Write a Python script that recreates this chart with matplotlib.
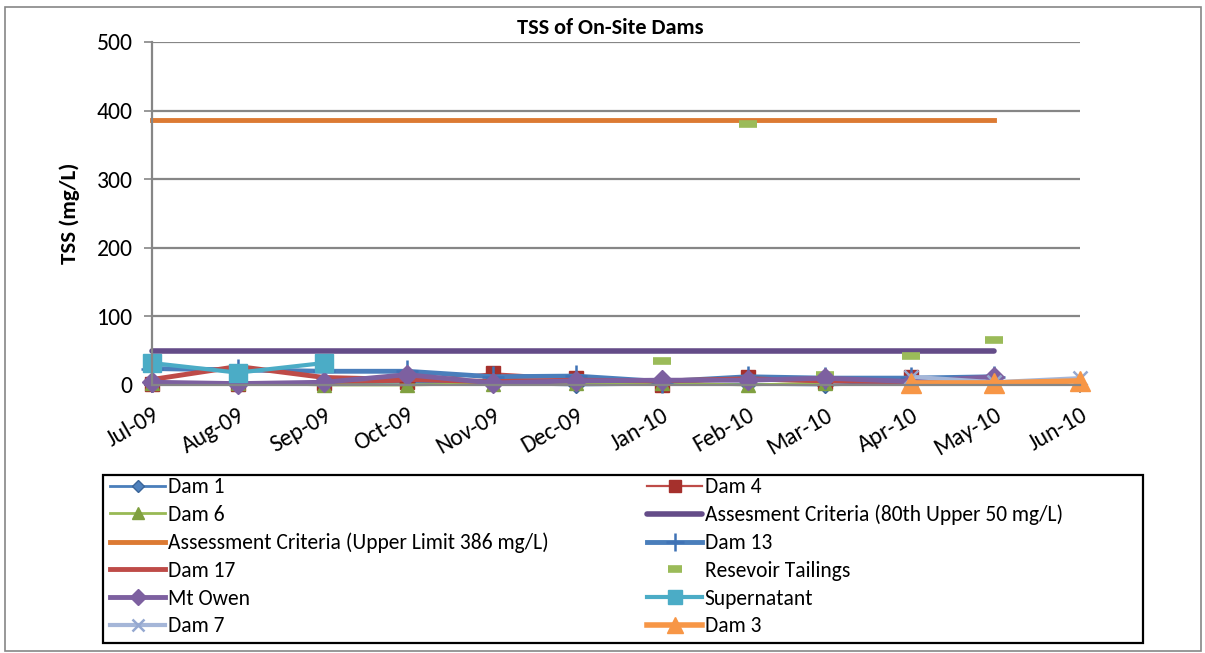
import datetime as dt
import numpy as np
import matplotlib
matplotlib.use("Agg")
import matplotlib.pyplot as plt
from matplotlib import font_manager
from matplotlib.patches import Rectangle

nan = np.nan

# Monthly sampling dates
months = [dt.date(2009, m, 1) for m in range(7, 13)] + [dt.date(2010, m, 1) for m in range(1, 7)]
month_labels = ["Jul-09", "Aug-09", "Sep-09", "Oct-09", "Nov-09", "Dec-09",
                "Jan-10", "Feb-10", "Mar-10", "Apr-10", "May-10", "Jun-10"]

# TSS results (mg/L)
dam1 = [2, 2, 3, 4, 2, 0, 1, 1, 0, 3, nan, nan]
dam4 = [2, 2, 3, 5, 17, 10, 0, 12, 5, 12, nan, nan]
dam6 = [3, 3, 0, 0, 2, 3, 3, 0, 3, nan, nan, nan]
criteria_80th = [50] * 11 + [nan]
criteria_upper = [386] * 11 + [nan]
dam13 = [24, 22, 20, 20, 12, 13, 5, 12, 10, 10, 12, nan]
dam17 = [8, 27, 11, 8, 5, 7, 6, 9, 6, 5, nan, nan]
reservoir_tailings = [nan, nan, nan, nan, nan, nan, 35, 380, 15, 42, 66, nan]
mt_owen = [4, 2, 4, 15, 3, 6, 7, 7, 10, 5, 12, nan]
supernatant = [32, 18, 32, nan, nan, nan, nan, nan, nan, nan, nan, nan]
dam7 = [nan] * 9 + [12, 4, 10]
dam3 = [nan] * 9 + [3, 3, 6]

yticks = [0, 100, 200, 300, 400, 500]

names = {f.name for f in font_manager.fontManager.ttflist}
family = "Carlito" if "Carlito" in names else "Lato"
plt.rcParams["font.family"] = [family, "DejaVu Sans"]

W, H = 1205, 653
fig = plt.figure(figsize=(W / 100, H / 100), dpi=100)
ax = fig.add_axes([152 / W, 1 - 385 / H, 928 / W, 343 / H])

series = [
    ("Dam 1", dam1, dict(color="#4A7EBB", lw=2.0, marker="D", ms=8, mfc="#4F81BD", mec="#3A6599")),
    ("Dam 4", dam4, dict(color="#BE4B48", lw=1.6, marker="s", ms=10, mfc="#A5302C", mec="#A5302C")),
    ("Dam 6", dam6, dict(color="#98B954", lw=2.0, marker="^", ms=10, mfc="#80A040", mec="#80A040")),
    ("Assesment Criteria (80th Upper 50 mg/L)", criteria_80th,
     dict(color="#644C88", lw=4.0, solid_capstyle="round")),
    ("Assessment Criteria (Upper Limit 386 mg/L)", criteria_upper,
     dict(color="#DC7A33", lw=3.5)),
    ("Dam 13", dam13, dict(color="#4A7EBB", lw=3.5, marker="+", ms=16, mew=1.8, mec="#3F72B5")),
    ("Dam 17", dam17, dict(color="#BE4B48", lw=3.5)),
    ("Resevoir Tailings", reservoir_tailings,
     dict(color="#9BBB59", lw=0, marker="_", ms=13, mew=5.5, mec="#9BBB59")),
    ("Mt Owen", mt_owen, dict(color="#7D60A0", lw=3.5, marker="D", ms=10, mfc="#7D60A0", mec="#7D60A0")),
    ("Supernatant", supernatant, dict(color="#4BACC6", lw=3.0, marker="s", ms=13, mfc="#4BACC6", mec="#4BACC6")),
    ("Dam 7", dam7, dict(color="#A5B6D8", lw=3.0, marker="x", ms=10, mew=1.8, mec="#95A8D0")),
    ("Dam 3", dam3, dict(color="#F79646", lw=4.0, marker="^", ms=15, mfc="#F79646", mec="#F79646")),
]

handles = {}
for name, vals, style in series:
    (h,) = ax.plot(months, vals, label=name, clip_on=False, **style)
    handles[name] = h

ax.set_ylim(0, 500)
ax.set_yticks(yticks)
ax.set_xlim(months[0], months[-1])
ax.set_xticks(months)
ax.set_xticklabels(month_labels, rotation=30, ha="right", rotation_mode="anchor", fontsize=17)
ax.tick_params(axis="y", labelsize=17, length=6, width=1.2, color="#868686", direction="out", pad=8)
ax.tick_params(axis="x", length=6, width=1.2, color="#868686", direction="out", pad=8)

ax.grid(axis="y", color="#868686", lw=1.6)
ax.set_axisbelow(True)
for side in ("top", "right"):
    ax.spines[side].set_visible(False)
for side in ("left", "bottom"):
    ax.spines[side].set_color("#868686")
    ax.spines[side].set_linewidth(1.6)

ax.set_ylabel("TSS (mg/L)", fontsize=16.5, fontweight="bold", labelpad=12)
fig.text(610 / W, 1 - 28 / H, "TSS of On-Site Dams", ha="center", va="center",
         fontsize=16, fontweight="bold")

# Legend filled row by row across two columns
order_left = ["Dam 1", "Dam 6", "Assessment Criteria (Upper Limit 386 mg/L)", "Dam 17", "Mt Owen", "Dam 7"]
order_right = ["Dam 4", "Assesment Criteria (80th Upper 50 mg/L)", "Dam 13", "Resevoir Tailings",
               "Supernatant", "Dam 3"]
order = order_left + order_right
leg = fig.legend([handles[n] for n in order], order, ncol=2,
                 bbox_to_anchor=(108 / W, 1 - 475 / H), loc="upper left",
                 fontsize=15.5, frameon=False, handlelength=2.55, handletextpad=0.12,
                 labelspacing=0.36, borderaxespad=0, borderpad=0.1, columnspacing=4.6,
                 markerscale=0.8)

# Legend frame and outer chart border
fig.patches.append(Rectangle((103 / W, 1 - 643 / H), 1040 / W, 168 / H, transform=fig.transFigure,
                             fill=False, edgecolor="black", lw=1.6))
fig.patches.append(Rectangle((5 / W, 2 / H), 1196 / W, 644 / H, transform=fig.transFigure,
                             fill=False, edgecolor="#868686", lw=1.2))

fig.savefig("out.png", dpi=100)
